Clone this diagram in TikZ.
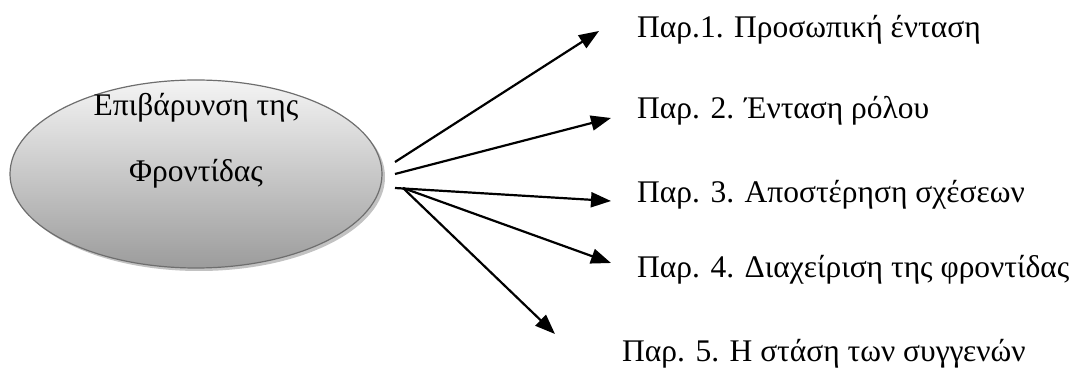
\documentclass[tikz,border=0pt]{standalone}
\usepackage{fontspec}
\setmainfont{Liberation Serif}
\usetikzlibrary{arrows.meta,shapes.geometric,shadows}
\definecolor{ellborder}{HTML}{6E6E6E}
\definecolor{elltop}{HTML}{F4F4F4}
\definecolor{ellbot}{HTML}{9C9C9C}
\tikzset{
  bubble/.style={ellipse, draw=ellborder, line width=1.2pt, minimum width=372pt, minimum height=188pt, inner sep=0pt,
    top color=elltop, bottom color=ellbot,
    drop shadow={shadow xshift=3pt, shadow yshift=-3pt, fill=black!40, opacity=0.6}},
  lbl/.style={anchor=base west, inner sep=0pt, font=\fontsize{31.5}{36}\selectfont},
  ctext/.style={anchor=base, inner sep=0pt, font=\fontsize{31.5}{36}\selectfont},
  arr/.style={line width=2.2pt, -{Triangle[length=20pt,width=15pt]}}
}
\begin{document}
\begin{tikzpicture}[x=1pt,y=-1pt]
\useasboundingbox (0,0) rectangle (1074,371);
\node[bubble] (burden) at (196,174) {};
\node[ctext] (btext1) at (196,116) {Επιβάρυνση της};
\node[ctext] (btext2) at (196,182) {Φροντίδας};
% start points
\coordinate (s1) at (395,162);
\coordinate (s2) at (395,174);
\coordinate (s3) at (395,188);
\coordinate (s4) at (403,188);
% tips
\coordinate (t1) at (599,31);
\coordinate (t2) at (611,118);
\coordinate (t3) at (611,201);
\coordinate (t4) at (611,263);
\coordinate (t5) at (555,334);
\draw[arr] (s1) -- (t1);
\draw[arr] (s2) -- (t2);
\draw[arr] (s3) -- (t3);
\draw[arr] (s4) -- (t4);
\draw[arr] (s4) -- (t5);
% labels
\node[lbl] (p1) at (637,38) {Παρ.1. Προσωπική ένταση};
\node[lbl] (p2) at (637,119) {Παρ. 2. Ένταση ρόλου};
\node[lbl] (p3) at (637,203) {Παρ. 3. Αποστέρηση σχέσεων};
\node[lbl] (p4) at (637,278) {Παρ. 4. Διαχείριση της φροντίδας};
\node[lbl] (p5) at (622,362) {Παρ. 5. Η στάση των συγγενών};
\end{tikzpicture}
\end{document}
